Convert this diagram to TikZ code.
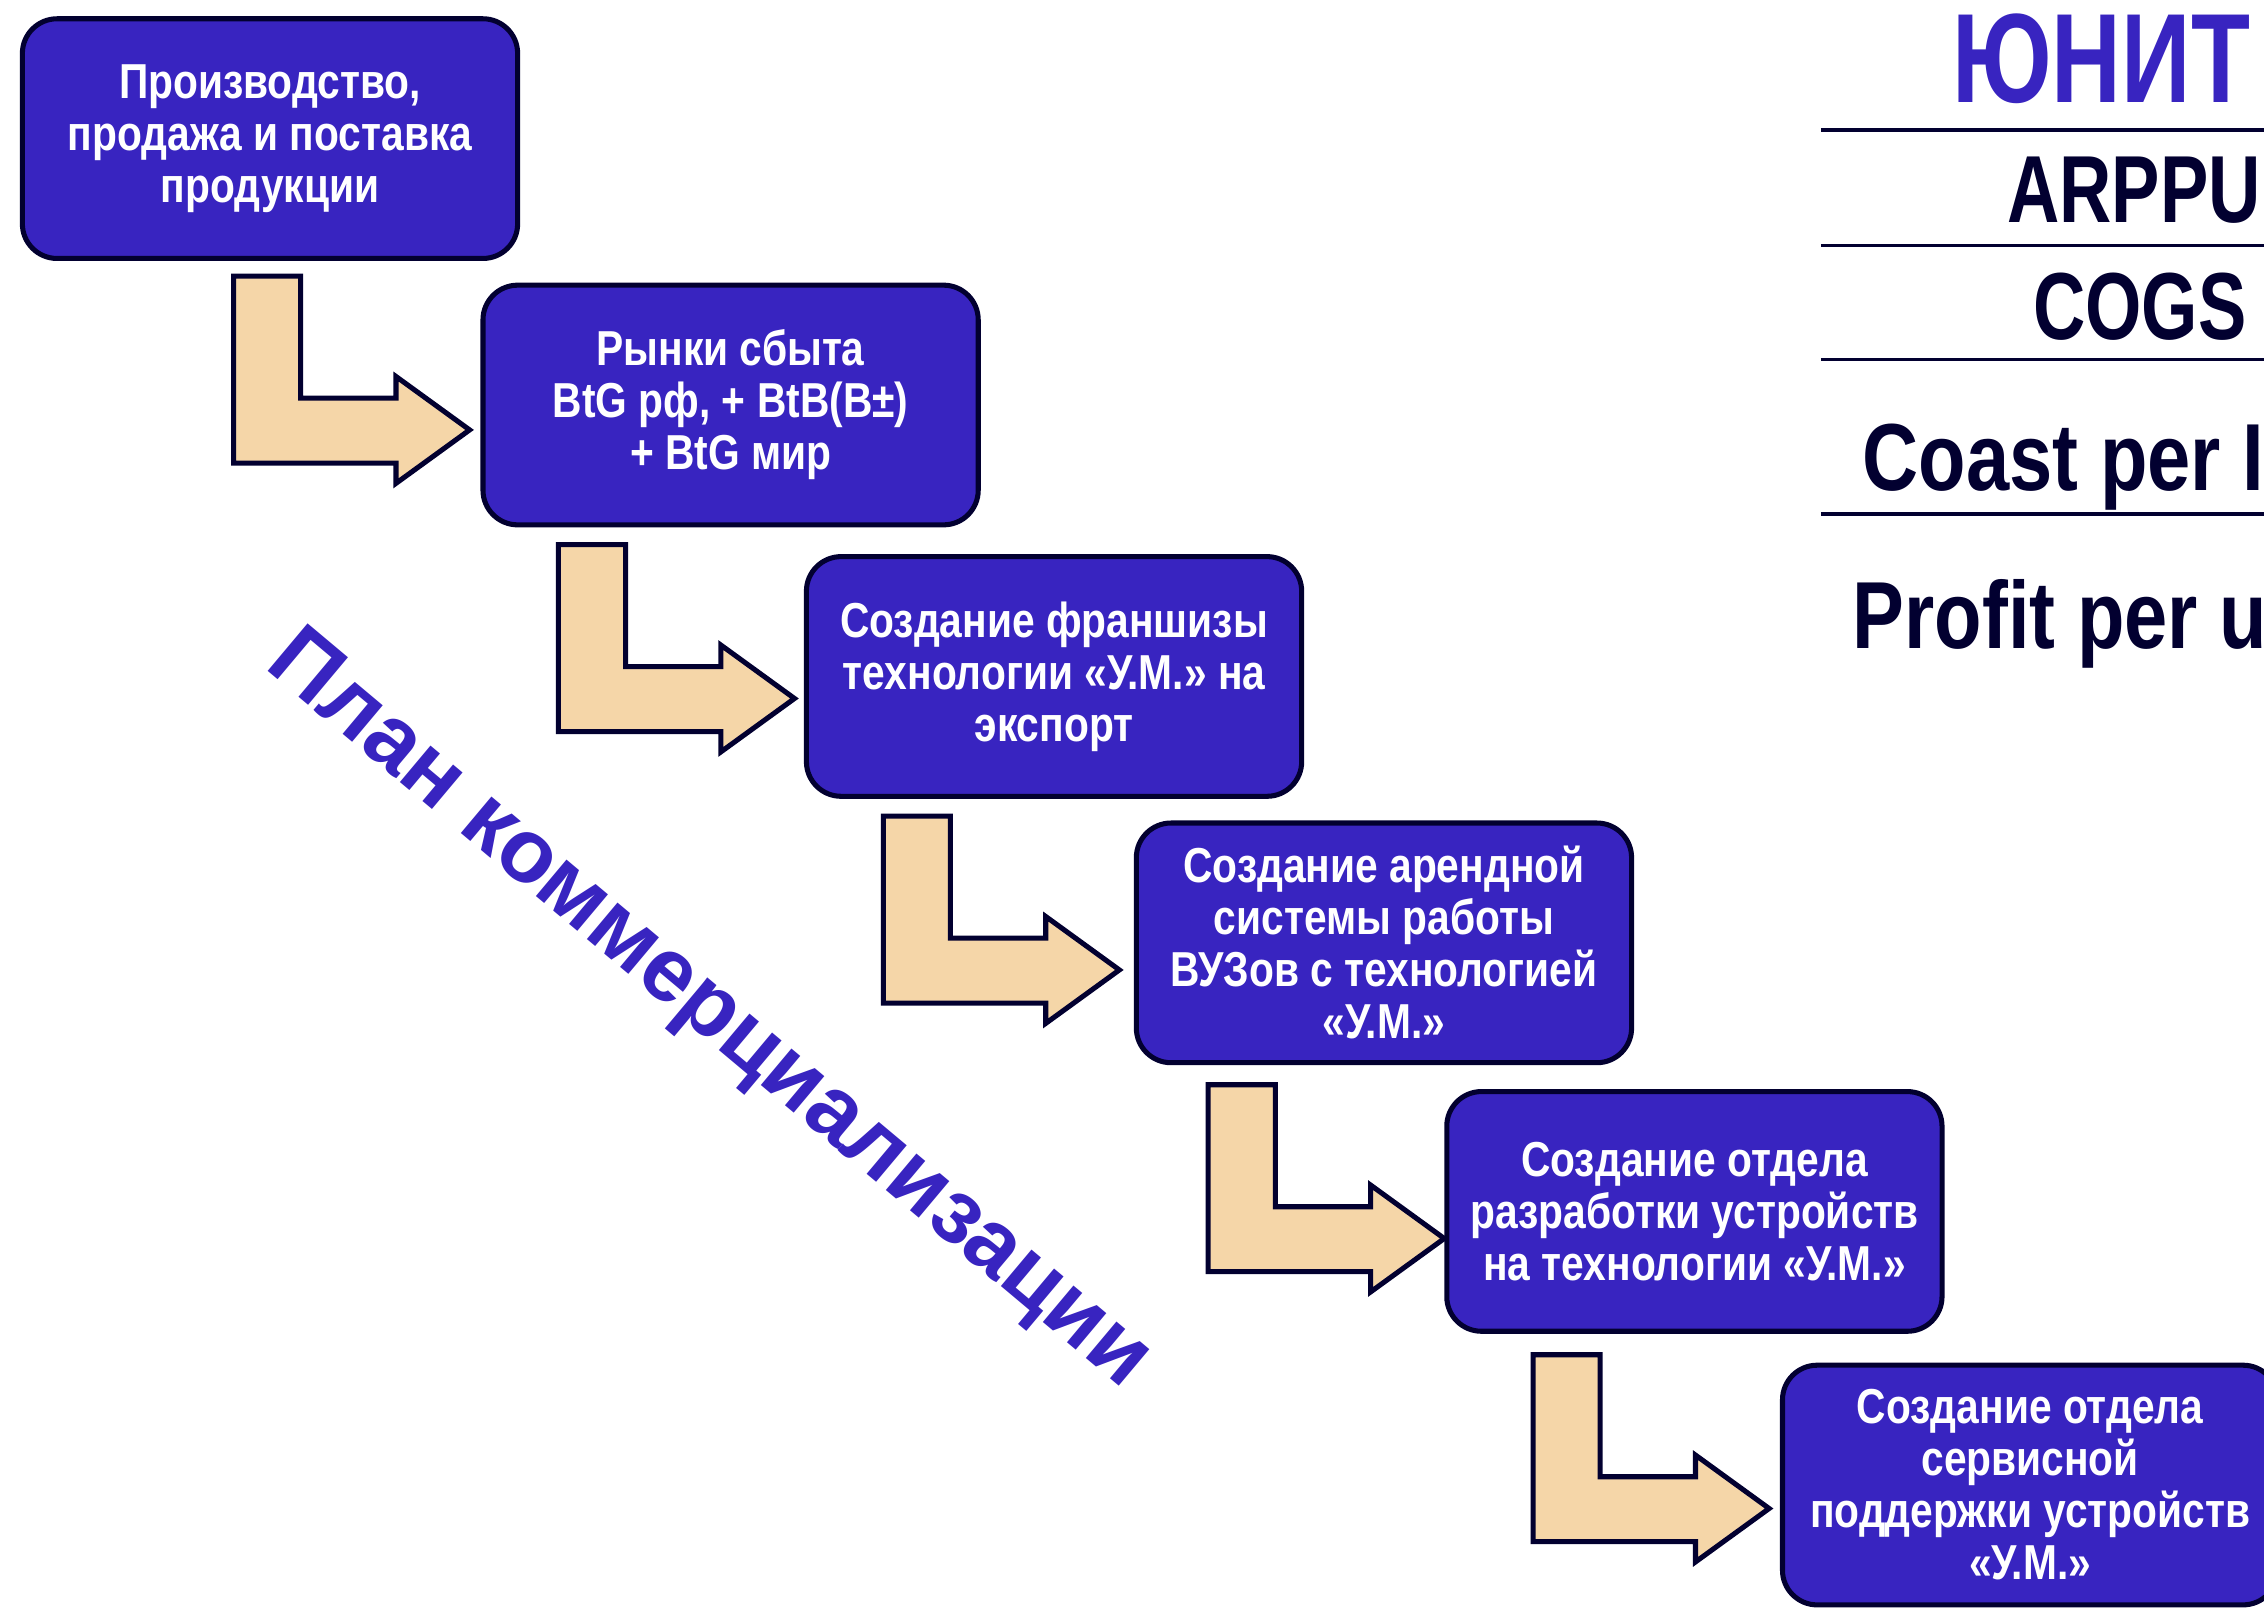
\documentclass[tikz,border=0pt]{standalone}
\usepackage{fontspec}
\usetikzlibrary{calc}
\newfontfamily\condfont[FakeStretch=0.83]{Liberation Sans}
\newfontfamily\rightfont[FakeStretch=0.76]{Liberation Sans}
\newfontfamily\rightwidefont[FakeStretch=0.815]{Liberation Sans}
\newfontfamily\diagfont{Liberation Sans}
\definecolor{boxblue}{RGB}{56,36,192}
\definecolor{navy}{RGB}{2,0,48}
\definecolor{tan}{RGB}{245,214,168}
\tikzset{
  stepbox/.style={rectangle, rounded corners=24pt, draw=navy, line width=3.5pt,
    fill=boxblue, minimum width=343pt, minimum height=166pt, text=white,
    align=center, inner sep=0pt, font=\condfont\bfseries\fontsize{34}{36}\selectfont},
  arrowshape/.style={draw=navy, fill=tan, line width=3.5pt, line join=miter},
  bentarrow/.pic={\draw[arrowshape] (1.5,1.5) -- (48,1.5) -- (48,86) -- (114,86) -- (114,71)
     -- (165,108) -- (114,145) -- (114,131) -- (1.5,131) -- cycle;},
  metric/.style={anchor=base west, inner sep=0pt, text=navy, font=\rightfont\bfseries\fontsize{66}{66}\selectfont},
  metricwide/.style={metric, font=\rightwidefont\bfseries\fontsize{66}{66}\selectfont},
  rule/.style={draw=navy, line width=2.5pt}
}
\begin{document}
\begin{tikzpicture}[x=1pt,y=-1pt]
\useasboundingbox (0,0) rectangle (1568,1113);
\clip (0,0) rectangle (1568,1113);
% boxes
\node[stepbox] (b1) at (187,96) {Производство,\\продажа и поставка\\продукции};
\node[stepbox] (b2) at (506,280.5) {Рынки сбыта\\BtG рф, + BtB(B±)\\+ BtG мир};
\node[stepbox] (b3) at (730,468.5) {Создание франшизы\\технологии «У.М.» на\\экспорт};
\node[stepbox] (b4) at (958.5,653) {Создание арендной\\системы работы\\ВУЗов с технологией\\«У.М.»};
\node[stepbox] (b5) at (1173.5,839) {Создание отдела\\разработки устройств\\на технологии «У.М.»};
\node[stepbox] (b6) at (1406,1028.5) {Создание отдела\\сервисной\\поддержки устройств\\«У.М.»};
% bent arrows
\pic at ($(b1.south west)+(146.5,9)$) {bentarrow};
\pic at ($(b2.south west)+(52.5,10.5)$) {bentarrow};
\pic at ($(b3.south west)+(53.5,10.5)$) {bentarrow};
\pic at ($(b4.south west)+(50,12)$) {bentarrow};
\pic at ($(b5.south west)+(60,13)$) {bentarrow};
% diagonal title
\node[rotate=-40, text=boxblue, inner sep=0pt, font=\diagfont\bfseries\fontsize{62.5}{62.5}\selectfont] (title) at (490,701) {План коммерциализации};
% right column
\node[anchor=base west, inner sep=0pt, text=boxblue, font=\rightfont\bfseries\fontsize{88}{88}\selectfont] (unit) at (1352,71) {ЮНИТ};
\coordinate (l1) at (1261,90);  \coordinate (r1) at (1580,90);
\coordinate (l2) at (1261,170); \coordinate (r2) at (1580,170);
\coordinate (l3) at (1261,249); \coordinate (r3) at (1580,249);
\coordinate (l4) at (1261,356); \coordinate (r4) at (1580,356);
\draw[rule] (l1) -- (r1);
\draw[rule] (l2) -- (r2);
\draw[rule] (l3) -- (r3);
\draw[rule] (l4) -- (r4);
\node[metric] (arppu) at (1390,154) {ARPPU};
\node[metric] (cogs) at (1408,235) {COGS};
\node[metricwide] (cpi) at (1290,340) {Coast per I};
\node[metricwide] (ppu) at (1283,449) {Profit per u};
\end{tikzpicture}
\end{document}
